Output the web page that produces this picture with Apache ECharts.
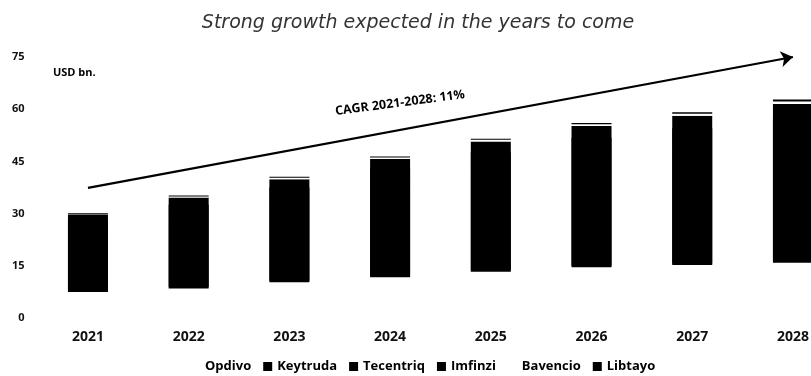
<!DOCTYPE html>
<html>
<head>
<meta charset="utf-8">
<script src="https://cdn.jsdelivr.net/npm/echarts@6/dist/echarts.min.js"></script>
<style>
  html, body { margin: 0; padding: 0; background: #fff; }
  #chart { width: 811px; height: 376px; }
</style>
</head>
<body>
<div id="chart"></div>
<script>
// data (USD bn.)
var years = ['2021', '2022', '2023', '2024', '2025', '2026', '2027', '2028'];
var opdivo = [7.5, 8.5, 10.3, 11.7, 13.3, 14.6, 15.2, 15.9];
var keytruda = [17.2, 20.0, 22.6, 26.0, 28.6, 31.0, 32.7, 34.6];
var tecentriq = [3.0, 3.6, 4.2, 4.8, 5.3, 5.8, 6.2, 6.6];
var imfinzi = [2.1, 2.5, 2.8, 3.2, 3.5, 3.8, 4.0, 4.4];
var bavencio = [0.1, 0.3, 0.4, 0.4, 0.5, 0.5, 0.6, 0.7];
var libtayo = [0.2, 0.3, 0.3, 0.3, 0.3, 0.3, 0.4, 0.6];
var yTicks = [0, 15, 30, 45, 60, 75];
var trendStart = 37.4;
var trendEnd = 75;
var cagrText = 'CAGR 2021-2028: 11%';

var font = '"Open Sans", Lato, sans-serif';

function bar(name, data, color, seamFix) {
  var style = { color: color, borderWidth: 0 };
  if (seamFix) {
    // a 1px shadow upward hides the antialiasing seam with the black segment above
    style.shadowColor = color;
    style.shadowBlur = 0;
    style.shadowOffsetY = -1.5;
  }
  return {
    name: name,
    type: 'bar',
    stack: 'total',
    barWidth: 40,
    data: data,
    itemStyle: style,
    emphasis: { disabled: true }
  };
}

var myChart = echarts.init(document.getElementById('chart'));
var series = [
  bar('Opdivo', opdivo, '#ffffff'),
  bar('Keytruda', keytruda, '#000000', true),
  bar('Tecentriq', tecentriq, '#000000', true),
  bar('Imfinzi', imfinzi, '#000000'),
  bar('Bavencio', bavencio, '#ffffff'),
  bar('Libtayo', libtayo, '#000000')
];
// growth arrow
series[0].markLine = {
  silent: true,
  symbol: ['none', 'arrow'],
  symbolSize: 12,
  label: { show: false },
  lineStyle: { color: '#000', width: 2.2, type: 'solid' },
  data: [[
    { coord: [years[0], trendStart] },
    { coord: [years[years.length - 1], trendEnd] }
  ]]
};

myChart.setOption({
  animation: false,
  title: {
    text: 'Strong growth expected in the years to come',
    left: 413,
    textAlign: 'center',
    top: 9,
    textStyle: {
      fontFamily: '"DejaVu Sans", sans-serif',
      fontStyle: 'italic',
      fontWeight: 'normal',
      fontSize: 19,
      color: '#333'
    }
  },
  legend: {
    left: 186,
    top: 355,
    itemWidth: 9,
    itemHeight: 9,
    itemGap: 12,
    icon: 'rect',
    data: ['Opdivo', 'Keytruda', 'Tecentriq', 'Imfinzi', 'Bavencio', 'Libtayo'],
    textStyle: { fontFamily: font, fontWeight: 'bold', fontSize: 13, color: '#000' }
  },
  grid: {
    left: 37.6,
    width: 805.7,
    top: 57,
    bottom: 58,
    outerBoundsMode: 'none',
    containLabel: false
  },
  xAxis: {
    type: 'category',
    data: years,
    axisLine: { show: false },
    axisTick: { show: false },
    axisLabel: {
      margin: 12,
      fontFamily: font,
      fontWeight: 'bold',
      fontSize: 14,
      color: '#111'
    }
  },
  yAxis: {
    type: 'value',
    min: yTicks[0],
    max: yTicks[yTicks.length - 1],
    interval: yTicks[1] - yTicks[0],
    splitLine: { show: false },
    axisLine: { show: false },
    axisTick: { show: false },
    axisLabel: {
      margin: 13,
      fontFamily: font,
      fontWeight: 'bold',
      fontSize: 11,
      color: '#111'
    }
  },
  graphic: [
    {
      type: 'text',
      left: 53,
      top: 67,
      style: { text: 'USD bn.', font: 'bold 11px ' + font, fill: '#000' }
    },
    {
      type: 'text',
      x: 400,
      y: 103,
      rotation: 0.13,
      style: {
        text: cagrText,
        font: 'bold 12.5px ' + font,
        fill: '#000',
        align: 'center',
        verticalAlign: 'middle'
      }
    }
  ],
  series: series
});
</script>
</body>
</html>
